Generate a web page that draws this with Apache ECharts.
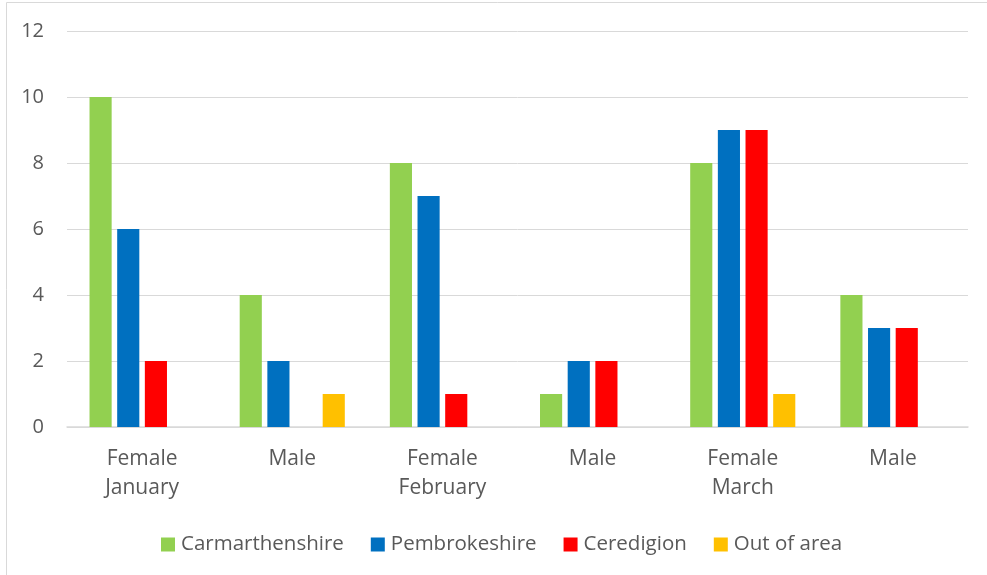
<!DOCTYPE html>
<html><head><meta charset="utf-8">
<script src="https://cdn.jsdelivr.net/npm/echarts@6/dist/echarts.min.js"></script>
<style>html,body{margin:0;padding:0;background:#fff}#c{width:987px;height:575px}</style>
</head><body><div id="c"></div>
<script>
const categories = ["Female\nJanuary", "Male", "Female\nFebruary", "Male", "Female\nMarch", "Male"];
const carmarthenshire = [10, 4, 8, 1, 8, 4];
const pembrokeshire = [6, 2, 7, 2, 9, 3];
const ceredigion = [2, 0, 1, 2, 9, 3];
const outOfArea = [0, 1, 0, 0, 1, 0];
const seriesNames = ["Carmarthenshire", "Pembrokeshire", "Ceredigion", "Out of area"];
const yTicks = [0, 2, 4, 6, 8, 10, 12];

const colors = ["#92D050", "#0070C0", "#FF0000", "#FFC000"];
const font = "'Open Sans', sans-serif";
const txt = "#595959";
const chart = echarts.init(document.getElementById('c'));
const datasets = [carmarthenshire, pembrokeshire, ceredigion, outOfArea];
chart.setOption({
  animation: false,
  color: colors,
  graphic: [{type: 'rect', shape: {x: 6.5, y: 2.5, width: 1000, height: 600}, style: {fill: 'none', stroke: '#D9D9D9', lineWidth: 1}}],
  grid: {left: 67, right: 19, top: 31, bottom: 148},
  legend: {
    top: 529, left: 156, itemWidth: 14, itemHeight: 14, itemGap: 27, icon: 'rect',
    textStyle: {color: txt, fontFamily: font, fontSize: 20.5, padding: [0, 0, 0, 1]},
    data: seriesNames
  },
  xAxis: {
    type: 'category', data: categories,
    axisLine: {lineStyle: {color: '#D9D9D9', width: 1.5}},
    axisTick: {show: false},
    axisLabel: {color: txt, fontFamily: font, fontSize: 21, lineHeight: 29, margin: 18}
  },
  yAxis: {
    type: 'value', min: yTicks[0], max: yTicks[yTicks.length - 1], interval: 2,
    axisLine: {show: false}, axisTick: {show: false},
    splitLine: {lineStyle: {color: '#D9D9D9', width: 1}},
    axisLabel: {color: txt, fontFamily: font, fontSize: 20, margin: 23}
  },
  series: datasets.map((d, i) => ({
    name: seriesNames[i], type: 'bar', data: d,
    barGap: '25%', barCategoryGap: '30%'
  }))
});
</script></body></html>
